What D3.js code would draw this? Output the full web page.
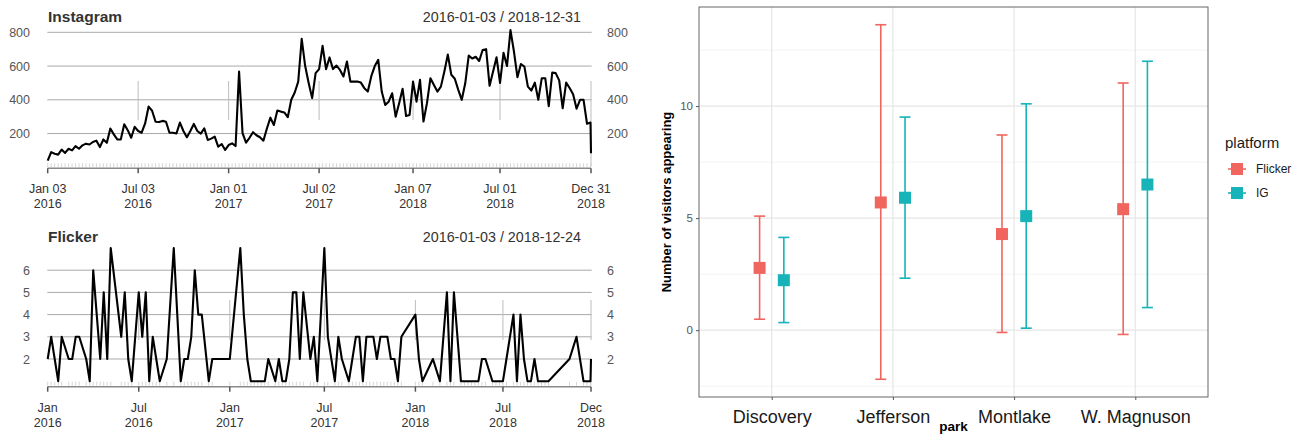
<!DOCTYPE html>
<html><head><meta charset="utf-8">
<script src="https://cdn.jsdelivr.net/npm/d3@7"></script>
<style>
body{margin:0;background:#fff}
svg{display:block;font-family:"Liberation Sans",Arial,Helvetica,sans-serif}
</style>
</head><body>
<svg id="c" width="1302" height="434"></svg>
<script>
// ---------------- DATA ----------------
// Instagram: weekly counts starting 2016-01-03 (Sundays), plus a final partial point
const igStart = "2016-01-03";
const igWeekly = [40,90,80,75,105,85,110,100,125,110,
130,140,135,150,158,120,165,145,230,195,
165,165,255,220,175,240,215,205,260,360,
335,270,268,275,270,205,205,200,265,215,
178,215,257,215,200,231,162,170,182,122,
138,103,132,142,126,567,202,146,175,208,
190,178,158,230,294,251,336,330,325,297,
400,443,508,761,600,500,410,558,582,720,
582,651,582,603,577,538,627,508,508,508,
502,469,449,540,600,637,449,370,389,439,
300,380,465,304,310,508,389,518,271,380,
528,488,449,478,568,668,548,525,459,400,
498,662,645,655,630,695,700,483,567,652,
500,678,600,813,686,534,612,597,478,455,
502,400,528,528,362,561,558,515,350,502,
470,433,347,400,400,258,265];
const igEndDate = "2018-12-31";
const igEndValue = 83;
const igTickDates = ["2016-01-03","2016-07-03","2017-01-01","2017-07-02","2018-01-07","2018-07-01","2018-12-31"];
const igTickLabels = [["Jan 03","2016"],["Jul 03","2016"],["Jan 01","2017"],["Jul 02","2017"],["Jan 07","2018"],["Jul 01","2018"],["Dec 31","2018"]];
const igYTicks = [200,400,600,800];

// Flicker: weekly counts from 2016-01-03 (null = week without observation), plus final point
const flStart = "2016-01-03";
const flWeekly = [2,3,2,1,3,null,2,2,3,3,
null,2,1,6,4,2,5,2,7,null,
null,3,5,2,1,null,5,3,5,1,
3,2,1,null,2,null,7,null,1,2,
2,3,6,4,4,null,1,2,null,null,
null,null,2,null,null,7,4,2,1,1,
1,1,1,2,null,1,2,1,1,2,
5,5,2,5,null,2,3,1,null,7,
3,null,1,3,2,null,1,2,3,3,
1,3,3,3,2,3,3,3,2,2,
1,3,null,null,null,4,2,1,null,null,
2,null,1,null,5,1,5,null,1,1,
1,1,1,1,2,2,null,1,1,1,
1,2,null,4,1,4,2,1,1,2,
1,1,1,1,null,null,null,null,null,2,
null,3,null,1,1,1];
const flEndDate = "2018-12-24";
const flEndValue = 2;
const flTickDates = ["2016-01-03","2016-07-03","2017-01-01","2017-07-09","2018-01-07","2018-07-01","2018-12-24"];
const flTickLabels = [["Jan","2016"],["Jul","2016"],["Jan","2017"],["Jul","2017"],["Jan","2018"],["Jul","2018"],["Dec","2018"]];
const flYTicks = [2,3,4,5,6];

// Right chart
const parks = ["Discovery","Jefferson","Montlake","W. Magnuson"];
const platforms = ["Flicker","IG"];
const flickerMean = [2.78, 5.70, 4.29, 5.40];
const flickerLow  = [0.49, -2.19, -0.10, -0.19];
const flickerHigh = [5.09, 13.63, 8.71, 11.03];
const igMean = [2.23, 5.91, 5.09, 6.50];
const igLow  = [0.34, 2.32, 0.09, 1.01];
const igHigh = [4.14, 9.51, 10.10, 12.00];
const yBreaks = [0,5,10];
const yMinor = [-2.5,2.5,7.5,12.5];

// ---------------- DRAW ----------------
const svg = d3.select("#c");
svg.append("rect").attr("width",1302).attr("height",434).attr("fill","#fff");
const parse = d3.utcParse("%Y-%m-%d");

function weekly(start, vals, endDate, endVal){
  const s = parse(start);
  const pts = vals.map((v,i)=>({d:d3.utcDay.offset(s,7*i), v:v}));
  pts.push({d:parse(endDate), v:endVal});
  return pts;
}

function timePanel(o){
  const g = svg.append("g");
  const x = d3.scaleUtc().domain([parse(o.start), parse(o.end)]).range([47.7, 591]);
  const y = d3.scaleLinear().domain(o.yDomain).range(o.yRange);
  g.selectAll(".gl").data(o.yTicks).join("line")
    .attr("x1",47.3).attr("x2",591.7)
    .attr("y1",d=>y(d)).attr("y2",d=>y(d))
    .attr("stroke","#a9a9a9").attr("stroke-width",1);
  g.selectAll(".yl").data(o.yTicks).join("text")
    .attr("x",30).attr("y",d=>y(d)).attr("dy","0.36em")
    .attr("text-anchor","end").attr("font-size",12.5).attr("fill","#555")
    .text(d=>d);
  g.selectAll(".yr").data(o.yTicks).join("text")
    .attr("x",607).attr("y",d=>y(d)).attr("dy","0.36em")
    .attr("text-anchor","start").attr("font-size",12.5).attr("fill","#555")
    .text(d=>d);
  const td = o.tickDates.map(parse);
  g.selectAll(".vs").data(td.slice(1)).join("line")
    .attr("x1",d=>x(d)).attr("x2",d=>x(d))
    .attr("y1",o.vsTop).attr("y2",(d,i)=> i===td.length-2 ? o.vsLastBottom : o.vsBottom)
    .attr("stroke","#bdbdbd").attr("stroke-width",1);
  const obs = o.data.filter(d=>d.v!=null);
  g.selectAll(".mt").data(obs).join("line")
    .attr("x1",d=>x(d.d)).attr("x2",d=>x(d.d))
    .attr("y1",o.axisY-5).attr("y2",o.axisY-1)
    .attr("stroke","#d6d6d6").attr("stroke-width",1);
  g.append("line").attr("x1",x.range()[0]).attr("x2",x.range()[1])
    .attr("y1",o.axisY).attr("y2",o.axisY)
    .attr("stroke","#8a8a8a").attr("stroke-width",1.6);
  g.selectAll(".mj").data(td).join("line")
    .attr("x1",d=>x(d)).attr("x2",d=>x(d))
    .attr("y1",o.axisY).attr("y2",o.axisY+5)
    .attr("stroke","#555").attr("stroke-width",1.5);
  const lab = g.selectAll(".xl").data(td).join("text")
    .attr("x",d=>x(d)).attr("y",o.axisY+25)
    .attr("text-anchor","middle").attr("font-size",12.5).attr("fill","#333");
  lab.append("tspan").attr("x",d=>x(d)).text((d,i)=>o.tickLabels[i][0]);
  lab.append("tspan").attr("x",d=>x(d)).attr("dy",15).text((d,i)=>o.tickLabels[i][1]);
  const line = d3.line().x(d=>x(d.d)).y(d=>y(d.v));
  g.append("path").datum(obs).attr("d",line)
    .attr("fill","none").attr("stroke","#000").attr("stroke-width",2.1)
    .attr("stroke-linejoin","round");
  g.append("text").attr("x",48).attr("y",o.titleY).attr("font-size",15.5)
    .attr("font-weight","bold").attr("fill","#333").text(o.title);
  g.append("text").attr("x",581).attr("y",o.titleY).attr("font-size",14.3)
    .attr("text-anchor","end").attr("fill","#333")
    .text(o.start+" / "+o.end);
}

timePanel({
  data: weekly(igStart, igWeekly, igEndDate, igEndValue),
  start: igStart, end: igEndDate,
  yDomain:[0,800], yRange:[167.3,32.3], yTicks: igYTicks,
  tickDates: igTickDates, tickLabels: igTickLabels,
  axisY: 168.3, vsTop: 81, vsBottom: 120, vsLastBottom: 166,
  title: "Instagram", titleY: 22
});
timePanel({
  data: weekly(flStart, flWeekly, flEndDate, flEndValue),
  start: flStart, end: flEndDate,
  yDomain:[1,7], yRange:[381.2,248], yTicks: flYTicks,
  tickDates: flTickDates, tickLabels: flTickLabels,
  axisY: 386.7, vsTop: 300, vsBottom: 340, vsLastBottom: 340,
  title: "Flicker", titleY: 241.5
});

// ---------------- RIGHT CHART ----------------
(function(){
  const L=699, R=1208, T=7, B=397;
  const g = svg.append("g");
  const series = [
    {name: platforms[0], mean: flickerMean, lo: flickerLow, hi: flickerHigh, color:"#F0655D", off:-1},
    {name: platforms[1], mean: igMean, lo: igLow, hi: igHigh, color:"#16B3B8", off:1}
  ];
  const all = series.flatMap(s=>s.lo.concat(s.hi));
  const mn = d3.min(all), mx = d3.max(all), ex = (mx-mn)*0.05;
  const y = d3.scaleLinear().domain([mn-ex, mx+ex]).range([B,T]);
  const x = d3.scalePoint().domain(parks).range([L,R]).padding(0.6);
  const dodge = x.step()*0.1;
  g.selectAll(".mn").data(yMinor).join("line")
    .attr("x1",L).attr("x2",R).attr("y1",d=>y(d)).attr("y2",d=>y(d))
    .attr("stroke","#f3f3f3").attr("stroke-width",1);
  g.selectAll(".mj").data(yBreaks).join("line")
    .attr("x1",L).attr("x2",R).attr("y1",d=>y(d)).attr("y2",d=>y(d))
    .attr("stroke","#e6e6e6").attr("stroke-width",1.2);
  g.selectAll(".vx").data(parks).join("line")
    .attr("x1",d=>x(d)).attr("x2",d=>x(d)).attr("y1",T).attr("y2",B)
    .attr("stroke","#e6e6e6").attr("stroke-width",1.2);
  series.forEach(s=>{
    const gg = g.append("g");
    parks.forEach((p,i)=>{
      const cx = x(p)+s.off*dodge;
      gg.append("line").attr("x1",cx).attr("x2",cx)
        .attr("y1",y(s.lo[i])).attr("y2",y(s.hi[i]))
        .attr("stroke",s.color).attr("stroke-width",1.6);
      [s.lo[i], s.hi[i]].forEach(v=>{
        gg.append("line").attr("x1",cx-5.5).attr("x2",cx+5.5)
          .attr("y1",y(v)).attr("y2",y(v))
          .attr("stroke",s.color).attr("stroke-width",1.6);
      });
      gg.append("rect").attr("x",cx-6).attr("y",y(s.mean[i])-6)
        .attr("width",12).attr("height",12).attr("fill",s.color);
    });
  });
  g.append("rect").attr("x",L).attr("y",T).attr("width",R-L).attr("height",B-T)
    .attr("fill","none").attr("stroke","#666").attr("stroke-width",1);
  const ya = g.append("g").attr("transform",`translate(${L},0)`)
    .call(d3.axisLeft(y).tickValues(yBreaks).tickSize(3).tickPadding(3));
  ya.select(".domain").remove();
  ya.selectAll(".tick line").attr("stroke","#555");
  ya.selectAll(".tick text").attr("font-size",11.5).attr("fill","#555")
    .attr("font-family","Liberation Sans, Arial, sans-serif");
  const xa = g.append("g").attr("transform",`translate(0,${B})`)
    .call(d3.axisBottom(x).tickSize(3).tickPadding(10));
  xa.select(".domain").remove();
  xa.selectAll(".tick line").attr("stroke","#555");
  xa.selectAll(".tick text").attr("font-size",18).attr("fill","#1a1a1a")
    .attr("font-family","Liberation Sans, Arial, sans-serif");
  g.append("text").attr("transform",`translate(671,${(T+B)/2}) rotate(-90)`)
    .attr("text-anchor","middle").attr("font-size",13).attr("font-weight","bold")
    .attr("fill","#000").text("Number of visitors appearing");
  g.append("text").attr("x",(L+R)/2).attr("y",431).attr("text-anchor","middle")
    .attr("font-size",13.5).attr("font-weight","bold").attr("fill","#000").text("park");
  g.append("text").attr("x",1225).attr("y",148).attr("font-size",15).attr("fill","#1a1a1a").text("platform");
  series.forEach((s,i)=>{
    const cy = 169 + i*24;
    g.append("line").attr("x1",1228).attr("x2",1246).attr("y1",cy).attr("y2",cy)
      .attr("stroke",s.color).attr("stroke-width",1.6);
    g.append("rect").attr("x",1231).attr("y",cy-6).attr("width",12).attr("height",12).attr("fill",s.color);
    g.append("text").attr("x",1256).attr("y",cy).attr("dy","0.36em").attr("font-size",12)
      .attr("fill","#1a1a1a").text(s.name);
  });
})();
</script>
</body></html>
